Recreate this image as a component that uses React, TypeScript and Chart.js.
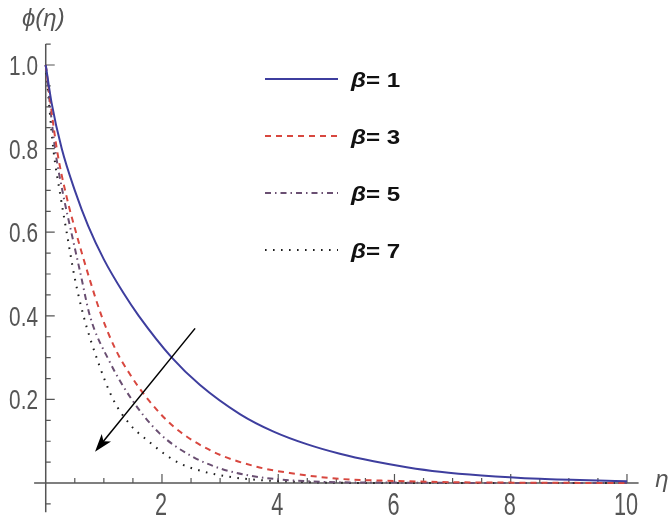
import React, { useEffect, useRef } from "react";
import { Chart, registerables } from "chart.js";

Chart.register(...registerables);

// ---- data ----
const etaB1 = [0, 0.1, 0.275, 0.5, 0.73, 1.0, 1.335, 1.6, 2.17, 2.65, 3.34, 3.92, 4.49, 5.06, 5.64, 6.21, 6.78, 7.5, 8.5, 10];
const phiB1 = [1, 0.91, 0.8, 0.7, 0.615, 0.535, 0.455, 0.4, 0.3, 0.235, 0.165, 0.123, 0.093, 0.07, 0.052, 0.038, 0.027, 0.018, 0.01, 0.004];

const etaB3 = [0, 0.19, 0.35, 0.53, 0.75, 0.96, 1.2, 1.45, 1.76, 2.2, 2.88, 3.63, 4.2, 5.06, 6, 7, 8, 10];
const phiB3 = [1, 0.8, 0.69, 0.595, 0.49, 0.4, 0.32, 0.26, 0.2, 0.135, 0.075, 0.039, 0.024, 0.01, 0.005, 0.002, 0.001, 0];

const etaB5 = [0, 0.16, 0.3, 0.44, 0.6, 0.76, 1.1, 1.48, 1.95, 2.5, 3, 3.5, 4, 5, 6, 8, 10];
const phiB5 = [1, 0.8, 0.69, 0.6, 0.5, 0.4, 0.29, 0.2, 0.12, 0.065, 0.035, 0.018, 0.009, 0.002, 0.001, 0, 0];

const etaB7 = [0, 0.13, 0.25, 0.36, 0.5, 0.65, 0.9, 1.16, 1.45, 1.74, 2.25, 2.7, 3.2, 3.7, 4.5, 6, 10];
const phiB7 = [1, 0.8, 0.69, 0.6, 0.49, 0.4, 0.29, 0.2, 0.14, 0.103, 0.051, 0.028, 0.014, 0.007, 0.002, 0, 0];

const betaValues = ["1", "3", "5", "7"];

const xTickLabels = [2, 4, 6, 8, 10];
const yTickLabels = [0.2, 0.4, 0.6, 0.8, 1.0];

// arrow: from (eta, phi) to (eta, phi)
const arrowFrom = [2.57, 0.37];
const arrowTo = [0.848, 0.075];

const xMin = -0.2;
const xMax = 10.2;
const yMin = -0.07;
const yMax = 1.05;

const styles = [
  { color: "#3e3e9e", dash: [] as number[] },
  { color: "#d8473f", dash: [6, 5] },
  { color: "#6a4f72", dash: [6, 4, 1.5, 4] },
  { color: "#1e1e1e", dash: [1.6, 6.4] },
];

const series = [
  [etaB1, phiB1],
  [etaB3, phiB3],
  [etaB5, phiB5],
  [etaB7, phiB7],
];

const AXIS_COLOR = "#555555";
const TEXT_COLOR = "#555555";

const axesPlugin = {
  id: "mmaAxes",
  beforeDatasetsDraw(chart: any) {
    const { ctx, chartArea, scales } = chart;
    const xs = scales.x;
    const ys = scales.y;
    const x0 = xs.getPixelForValue(0);
    const y0 = ys.getPixelForValue(0);
    ctx.save();
    ctx.strokeStyle = AXIS_COLOR;
    ctx.lineWidth = 1.5;
    ctx.beginPath();
    ctx.moveTo(chartArea.left, y0);
    ctx.lineTo(chartArea.right, y0);
    ctx.moveTo(x0, chartArea.top);
    ctx.lineTo(x0, chartArea.bottom);
    ctx.stroke();

    ctx.lineWidth = 1.2;
    ctx.beginPath();
    for (let k = 1; k <= 20; k++) {
      const v = k * 0.5;
      const px = xs.getPixelForValue(v);
      const len = k % 4 === 0 ? 9 : 5;
      ctx.moveTo(px, y0);
      ctx.lineTo(px, y0 - len);
    }
    for (let k = -1; k <= 21; k++) {
      if (k === 0) continue;
      const v = k * 0.05;
      const py = ys.getPixelForValue(v);
      const len = k % 4 === 0 ? 9 : 5;
      ctx.moveTo(x0, py);
      ctx.lineTo(x0 + len, py);
    }
    ctx.stroke();

    // tick labels
    ctx.fillStyle = TEXT_COLOR;
    ctx.font = '31px "Liberation Sans", Arial, sans-serif';
    ctx.textAlign = "center";
    ctx.textBaseline = "alphabetic";
    xTickLabels.forEach((v) => {
      const px = xs.getPixelForValue(v);
      ctx.save();
      ctx.translate(px - 1, 515);
      ctx.scale(0.7, 1);
      ctx.fillText(String(v), 0, 0);
      ctx.restore();
    });
    ctx.font = '27px "Liberation Sans", Arial, sans-serif';
    ctx.textAlign = "right";
    yTickLabels.forEach((v) => {
      const py = ys.getPixelForValue(v);
      ctx.save();
      ctx.translate(38, py + 10);
      ctx.scale(0.77, 1);
      ctx.fillText(v.toFixed(1), 0, 0);
      ctx.restore();
    });

    // axis labels
    ctx.font = 'italic 24px "Liberation Sans", Arial, sans-serif';
    ctx.textAlign = "left";
    ctx.fillText("\u03d5(\u03b7)", 22, 26);
    ctx.textAlign = "center";
    ctx.fillText("\u03b7", 662, 487);
    ctx.restore();
  },
  afterDatasetsDraw(chart: any) {
    const { ctx, scales } = chart;
    const xs = scales.x;
    const ys = scales.y;
    // arrow
    const ax = xs.getPixelForValue(arrowFrom[0]);
    const ay = ys.getPixelForValue(arrowFrom[1]);
    const bx = xs.getPixelForValue(arrowTo[0]);
    const by = ys.getPixelForValue(arrowTo[1]);
    const ang = Math.atan2(by - ay, bx - ax);
    const headLen = 18;
    const headW = 6;
    ctx.save();
    ctx.strokeStyle = "#000";
    ctx.fillStyle = "#000";
    ctx.lineWidth = 1.5;
    ctx.beginPath();
    ctx.moveTo(ax, ay);
    ctx.lineTo(bx - Math.cos(ang) * headLen * 0.6, by - Math.sin(ang) * headLen * 0.6);
    ctx.stroke();
    const bxBase = bx - Math.cos(ang) * headLen;
    const byBase = by - Math.sin(ang) * headLen;
    const nx = -Math.sin(ang);
    const ny = Math.cos(ang);
    ctx.beginPath();
    ctx.moveTo(bx, by);
    ctx.lineTo(bxBase + nx * headW, byBase + ny * headW);
    ctx.lineTo(bx - Math.cos(ang) * headLen * 0.75, by - Math.sin(ang) * headLen * 0.75);
    ctx.lineTo(bxBase - nx * headW, byBase - ny * headW);
    ctx.closePath();
    ctx.fill();

    // legend
    chart.data.datasets.forEach((ds: any, i: number) => {
      const y = 79 + i * 57;
      ctx.strokeStyle = ds.borderColor;
      ctx.lineWidth = 2;
      ctx.setLineDash(ds.borderDash || []);
      ctx.beginPath();
      ctx.moveTo(265, y);
      ctx.lineTo(338, y);
      ctx.stroke();
      ctx.setLineDash([]);
      ctx.fillStyle = "#111";
      ctx.textAlign = "left";
      ctx.textBaseline = "alphabetic";
      ctx.save();
      ctx.translate(351, y + 8);
      ctx.scale(1.15, 1);
      ctx.font = 'italic bold 21px "Liberation Sans", Arial, sans-serif';
      ctx.fillText("\u03b2", 0, 0);
      const w = ctx.measureText("\u03b2").width;
      ctx.font = 'bold 21px "Liberation Sans", Arial, sans-serif';
      ctx.fillText("= " + betaValues[i], w, 0);
      ctx.restore();
    });
    ctx.restore();
  },
};

export default function App() {
  const ref = useRef<HTMLCanvasElement | null>(null);
  useEffect(() => {
    if (!ref.current) return;
    const chart = new Chart(ref.current, {
      type: "line",
      data: {
        datasets: series.map(([eta, phi], i) => ({
          label: "\u03b2= " + betaValues[i],
          data: eta.map((x, j) => ({ x, y: phi[j] })),
          borderColor: styles[i].color,
          borderDash: styles[i].dash,
          borderWidth: 2,
          pointRadius: 0,
          fill: false,
          cubicInterpolationMode: "monotone" as const,
        })),
      },
      options: {
        animation: false,
        responsive: false,
        devicePixelRatio: 1,
        layout: { padding: { left: 34.1, right: 32.4, top: 44.1, bottom: 7.7 } },
        plugins: { legend: { display: false }, tooltip: { enabled: false } },
        scales: {
          x: { type: "linear", min: xMin, max: xMax, display: false },
          y: { type: "linear", min: yMin, max: yMax, display: false },
        },
      },
      plugins: [axesPlugin],
    });
    return () => chart.destroy();
  }, []);
  return (
    <div style={{ position: "absolute", left: 0, top: 0, width: 671, height: 520, background: "#fff" }}>
      <canvas ref={ref} width={671} height={520} style={{ width: 671, height: 520, display: "block" }} />
    </div>
  );
}
